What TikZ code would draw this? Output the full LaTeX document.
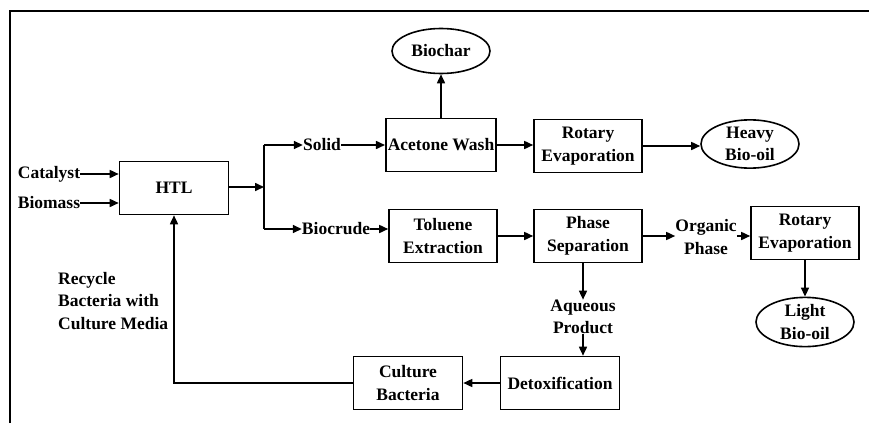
\documentclass[tikz,border=0pt]{standalone}
\usepackage{fontspec}
\setmainfont{Liberation Serif}
\usetikzlibrary{shapes.geometric,arrows.meta}
\begin{document}
\begin{tikzpicture}[x=1pt,y=-1pt,
  font=\fontsize{17.5}{22.5}\selectfont\bfseries,
  box/.style={draw, line width=1.6pt, minimum width=108pt, minimum height=53pt, align=center, inner sep=2pt},
  oval/.style={draw, ellipse, line width=1.6pt, minimum width=98pt, minimum height=45pt, align=center, inner sep=0pt},
  lbl/.style={inner sep=0pt, align=center},
  arr/.style={-{Triangle[length=9pt,width=8pt]}, line width=1.6pt},
  ln/.style={line width=1.6pt}]
\useasboundingbox (0,0) rectangle (869,423);
\draw[line width=2pt] (10,423) -- (10,11) -- (869,11);

\node[box, minimum width=109pt] (HTL) at (174,188) {HTL};
\node[lbl] (cat) at (49,174) {Catalyst};
\node[lbl] (bio) at (49,203) {Biomass};
\coordinate (sp) at (264,187);
\coordinate (spT) at (264,145);
\coordinate (spB) at (264,229);
\node[lbl] (solid) at (322,145) {Solid};
\node[lbl] (crude) at (336,229) {Biocrude};

\node[box] (ace) at (441,145) {Acetone Wash};
\node[oval] (char) at (441,51) {Biochar};
\node[box] (rot1) at (588,146) {Rotary\\Evaporation};
\node[oval] (heavy) at (750,144) {Heavy\\Bio-oil};

\node[box] (tol) at (443,236) {Toluene\\Extraction};
\node[box] (phase) at (588,236) {Phase\\Separation};
\node[lbl] (org) at (706,237) {Organic\\Phase};
\node[box] (rot2) at (805,233) {Rotary\\Evaporation};
\node[oval] (light) at (805,322) {Light\\Bio-oil};

\node[lbl] (aq) at (583,317) {Aqueous\\Product};
\node[box, minimum width=119pt] (detox) at (560,383) {Detoxification};
\node[box, minimum width=109pt] (cult) at (408,383) {Culture\\Bacteria};
\node[lbl, align=left, anchor=west] (rec) at (58,301) {Recycle\\Bacteria with\\Culture Media};

\draw[arr] (cat.east) -- (HTL.west |- cat.east);
\draw[arr] (bio.east) -- (HTL.west |- bio.east);
\draw[arr] (HTL.east |- sp) -- (sp);
\draw[ln] (spT) -- (spB);
\draw[arr] (spT) -- (solid.west);
\draw[arr] (spB) -- (crude.west);
\draw[arr] (solid.east) -- (ace.west |- solid.east);
\draw[arr] (ace.north) -- (char.south);
\draw[arr] (ace.east) -- (rot1.west |- ace.east);
\draw[arr] (rot1.east) -- (heavy.west |- rot1.east);
\draw[arr] (crude.east) -- (tol.west |- crude.east);
\draw[arr] (tol.east) -- (phase.west);
\draw[arr] (phase.east) -- (org.west |- phase.east);
\draw[arr] (org.east |- phase.east) -- (rot2.west |- phase.east);
\draw[arr] (rot2.south) -- (light.north);
\draw[arr] (phase.south -| aq.north) -- (aq.north);
\draw[arr] (aq.south) -- (detox.north -| aq.south);
\draw[arr] (detox.west) -- (cult.east);
\draw[arr] (cult.west) -| (HTL.south);
\end{tikzpicture}
\end{document}
